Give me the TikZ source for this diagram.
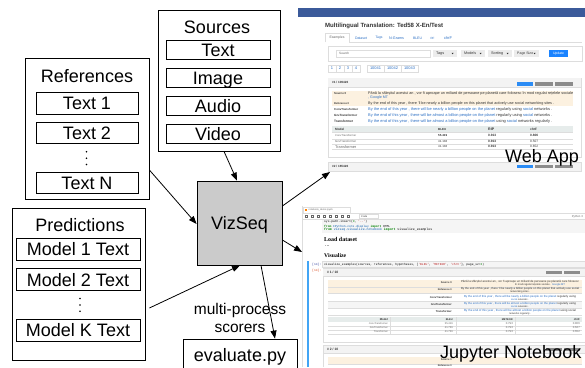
\documentclass[tikz,border=0pt]{standalone}
\usepackage{fontspec}
\setmainfont{Liberation Sans}
\newfontfamily\monofont{Liberation Mono}
\newfontfamily\seriffont{Liberation Serif}
\usetikzlibrary{arrows.meta}
\definecolor{vizgray}{HTML}{CBCBCB}
\definecolor{navblue}{HTML}{3B5A9A}
\definecolor{linkblue}{HTML}{2B6FC4}
\definecolor{beige}{HTML}{FCF1E0}
\definecolor{bordergray}{HTML}{DDDDDD}
\definecolor{hdrgray}{HTML}{F3F3F3}
\definecolor{tblhead}{HTML}{E6ECEB}
\definecolor{btngray}{HTML}{ECECEC}
\definecolor{updblue}{HTML}{1A83FF}
\definecolor{badgeblue}{HTML}{2B8CF5}
\definecolor{badgegray}{HTML}{8C8C8C}
\definecolor{darktxt}{HTML}{333333}
\definecolor{midtxt}{HTML}{666666}
\definecolor{codebg}{HTML}{F5F5F5}
\definecolor{cellblue}{HTML}{42A5F5}
\definecolor{codegreen}{HTML}{008000}
\definecolor{codeblue}{HTML}{0055AA}
\definecolor{promptblue}{HTML}{303F9F}
\definecolor{promptred}{HTML}{D84315}
\definecolor{codered}{HTML}{BA2121}
\newcommand{\fw}[2]{\resizebox{#1}{!}{#2}}
\begin{document}
\begin{tikzpicture}[x=1pt,y=-1pt,
  box/.style={draw=black,line width=0.8pt,inner sep=0pt,font=\fontsize{18}{20}\selectfont,text height=13pt,text depth=0pt},
  ttl/.style={inner sep=0pt,font=\fontsize{18}{20}\selectfont,anchor=base},
  arr/.style={line width=0.8pt,-{Triangle[length=8pt,width=6pt]}},
  sc/.style={inner sep=0pt,anchor=west},
  scc/.style={inner sep=0pt},
  sce/.style={inner sep=0pt,anchor=east},
  bd/.style={draw=bordergray,line width=0.4pt},
]
\useasboundingbox (0,0) rectangle (585,367);
\fill[white] (0,0) rectangle (585,367);

%================ Web App screenshot ================
\fill[navblue] (298,8) rectangle (585,17);
\node[sc,text=darktxt] (wtitle) at (325,26) {\fw{118pt}{\bfseries Multilingual Translation: Ted58 X-En/Test}};
% tabs
\draw[bd] (325,42) -- (325,33) -- (349,33) -- (349,42) -- (582,42);
\node[scc,text=midtxt] (tab0) at (337,38) {\fw{15pt}{Examples}};
\foreach \c/\w/\l in {361/12/Dataset,379/7/Tags,396.5/15/N-Grams,417.5/9/BLEU,432.5/4/RF,448/8/chrF}
  {\node[scc,text=linkblue] at (\c,38) {\fw{\w pt}{\l}};}
% search panel
\draw[bd,fill=white] (328,46) rectangle (582,61);
\draw[bd,fill=white] (336,50) rectangle (430,57);
\node[sc,text=midtxt] (srch) at (339,53.5) {\fw{10pt}{Search}};
\foreach \a/\b/\l/\w in {433/457/Tags/8,461/485/Models/12,488/512/Sorting/12,514/539/Page Size/16}
  {\fill[btngray] (\a,50) rectangle (\b,57);
   \node[sc,text=darktxt] at ({\a+3},53.5) {\fw{\w pt}{\l}};
   \fill[darktxt] ({\b-5.5},52.9) -- ++(2.2,0) -- ++(-1.1,1.3) -- cycle;}
\fill[updblue] (549,50) rectangle (568,57);
\node[scc,text=white] (upd) at (558.5,53.5) {\fw{11pt}{Update}};
% pagination
\foreach \i/\a in {1/328,2/336,3/344,4/352}
  {\draw[bd] (\a,65) rectangle ++(8,7);
   \node[scc,text=linkblue,font=\fontsize{4}{4}\selectfont] at ({\a+4},68.5) {\i};}
\foreach \i/\a in {10041/367,10042/384,10043/401}
  {\draw[bd] (\a,65) rectangle ++(17,7);
   \node[scc,text=linkblue] at ({\a+8.5},68.5) {\fw{11pt}{\i}};}
% card 1
\draw[bd,fill=white] (328,78) rectangle (581,157);
\fill[hdrgray] (328.4,78.4) rectangle (580.6,87);
\draw[bd] (328,87) -- (581,87);
\node[sc,text=darktxt] (c1h) at (332,82.5) {\fw{16pt}{\bfseries \#1 / 109426}};
\fill[badgeblue] (517,81.5) rectangle (533,85.5);
\fill[badgegray] (535,81.5) rectangle (553,85.5);
\fill[badgegray] (555,81.5) rectangle (573,85.5);
\fill[beige] (332,91) rectangle (573,100.5);
\fill[beige] (332,100.5) rectangle (573,106);
\node[sc,text=darktxt] at (334,94) {\fw{12pt}{\bfseries Source 0}};
\node[sc,text=darktxt] at (368,94) {\fw{205pt}{Până la sfârșitul acestui an , vor fi aproape un miliard de persoane pe planetă care folosesc în mod regulat rețelele sociale}};
\node[sc,text=linkblue] at (368,98) {\fw{20pt}{, Google MT}};
\node[sc,text=darktxt] at (334,103.5) {\fw{15pt}{\bfseries Reference 0}};
\node[sc,text=darktxt] at (368,103.5) {\fw{186pt}{By the end of this year , there 'll be nearly a billion people on this planet that actively use social networking sites .}};
\node[sc,text=darktxt] at (334,109.5) {\fw{24pt}{\bfseries ConvTransformer}};
\node[sc,text=linkblue] at (368,109.5) {\fw{184pt}{By the end of this year , there will be nearly a billion people on the planet \color{darktxt}regularly using \color{linkblue}social \color{darktxt}networks .}};
\node[sc,text=darktxt] at (334,115.3) {\fw{23pt}{\bfseries GruTransformer}};
\node[sc,text=linkblue] at (368,115.3) {\fw{184pt}{By the end of this year , there will be almost a billion people on the planet \color{darktxt}regularly using \color{linkblue}social \color{darktxt}networks .}};
\node[sc,text=darktxt] at (334,121) {\fw{19pt}{\bfseries Transformer}};
\node[sc,text=linkblue] at (368,121) {\fw{184pt}{By the end of this year , there will be almost a billion people on the planet \color{darktxt}using \color{linkblue}social \color{darktxt}networks regularly .}};
\fill[tblhead] (332,126) rectangle (573,132);
\foreach \y in {132,138.7,144,149.5} {\draw[bd] (332,\y) -- (573,\y);}
\node[sc,text=darktxt] at (335,129) {\fw{9pt}{\bfseries Model}};
\node[sc,text=darktxt] at (438,129) {\fw{8pt}{\bfseries BLEU}};
\node[sc,text=darktxt] at (488,129) {\fw{6pt}{\bfseries RIP}};
\node[sc,text=darktxt] at (530,129) {\fw{7pt}{\bfseries chrF}};
\foreach \y/\m/\b/\r/\c in {135.5/ConvTransformer/\bfseries 55.419/\bfseries 0.913/\bfseries 0.806,141.3/GruTransformer/41.138/\bfseries 0.913/0.507,146.8/Transformer/41.138/\bfseries 0.913/0.652}
  {\node[sc,text=midtxt] at (335,\y) {\fw{21pt}{\m}};
   \node[sc,text=darktxt] at (438,\y) {\fw{9pt}{\b}};
   \node[sc,text=darktxt] at (488,\y) {\fw{8pt}{\r}};
   \node[sc,text=darktxt] at (530,\y) {\fw{8pt}{\c}};}
% card 2
\fill[hdrgray] (328,162) rectangle (581,171);
\draw[bd] (328,172) -- (328,162) -- (581,162) -- (581,172);
\draw[bd] (328,171) -- (581,171);
\node[sc,text=darktxt] (c2h) at (332,166.3) {\fw{16pt}{\bfseries \#2 / 165426}};
\fill[badgeblue] (517,164.5) rectangle (533,168.2);
\fill[badgegray] (535,164.5) rectangle (553,168.2);
\fill[badgegray] (555,164.5) rectangle (573,168.2);

%================ Jupyter screenshot ================
\draw[bd] (302.5,206) -- (302.5,367);
\draw[bd,fill=white] (303,213) -- (303,207) -- (350,207) -- (350,213);
\fill[orange] (305,208.7) rectangle (307.3,211);
\node[sc,text=midtxt] (jtab) at (308.5,210) {\fw{24pt}{notebook\_demo.ipynb}};
\draw[bd] (303,213) -- (585,213);
\foreach \x in {305,311,317,323,329,335,341,347}
  {\draw[midtxt,line width=0.3pt] (\x,215) rectangle ++(2.6,2.4);}
\draw[bd] (359,214.3) rectangle (378,218.3);
\node[sc,text=darktxt] (jcode) at (361,216.3) {\fw{6pt}{Code}};
\node[sce,text=midtxt] (jpy) at (583,216.3) {\fw{11pt}{Python 3}};
\draw[bd] (303,219) -- (585,219);
\fill[codebg] (322,219.5) rectangle (585,232.5);
\node[sc] at (324,221.3) {\fw{43pt}{\monofont sys.path.insert(\color{codegreen}0\color{black}, \color{codered}'..'\color{black})}};
\node[sc] at (324,226.3) {\fw{66pt}{\monofont\color{codegreen}\bfseries from \mdseries\color{codeblue}IPython.core.display \color{codegreen}\bfseries import \mdseries\color{black}HTML}};
\node[sc] at (324,229.8) {\fw{108pt}{\monofont\color{codegreen}\bfseries from \mdseries\color{codeblue}vizseq.visualize.notebook \color{codegreen}\bfseries import \mdseries\color{black}visualize\_examples}};
\node[sc,text=black] (jload) at (324,239) {\fw{33pt}{\seriffont\bfseries Load dataset}};
\node[sc,text=black] (jdots) at (325,246.5) {\fw{4.5pt}{...}};
\node[sc,text=black] (jvis) at (324,256) {\fw{22pt}{\seriffont\bfseries Visualize}};
\fill[cellblue] (306.5,261) rectangle (308.5,367);
\fill[codebg] (322,261.5) rectangle (585,267.5);
\draw[bd] (322,267.5) -- (322,261.5) -- (585,261.5);
\draw[bd] (322,267.5) -- (585,267.5);
\node[sc,text=promptblue] (jin) at (312,264.5) {\fw{9pt}{\monofont [14]:}};
\node[sc] (jcall) at (324,264.5) {\fw{160pt}{\monofont visualize\_examples(sources, references, hypotheses, [\color{codered}'BLEU'\color{black}, \color{codered}'METEOR'\color{black}, \color{codered}'chrF'\color{black}], page\_sz=\color{codegreen}3\color{black})}};
\node[sc,text=promptred] (jout) at (312,270.8) {\fw{9pt}{\monofont [14]:}};
% output card 1
\draw[bd,fill=white] (323,268.5) rectangle (586,342);
\fill[hdrgray] (323.4,268.9) rectangle (586,276.5);
\draw[bd] (323,276.5) -- (586,276.5);
\node[sc,text=darktxt] (o1h) at (327,272.5) {\fw{11pt}{\bfseries \# 1 / 10}};
\fill[badgegray] (546,270.8) rectangle (562,274.3);
\fill[badgegray] (564,270.8) rectangle (580,274.3);
\fill[beige] (328,279.5) rectangle (582,287);
\fill[beige] (328,287) rectangle (582,293.5);
\fill[codebg] (328,301.5) rectangle (582,308.5);
\foreach \y in {287,293.5,301.5,308.5,315.5} {\draw[bd] (328,\y) -- (582,\y);}
\foreach \y/\l/\w in {282.5/Source 0/11,290/Reference 0/14,297.5/ConvTransformer/22,304.5/GruTransformer/21,311.5/Transformer/16}
  {\node[sce,text=darktxt] at (452,\y) {\fw{\w pt}{\bfseries \l}};}
\node[scc,text=darktxt] at (520,281.5) {\fw{118pt}{Până la sfârșitul acestui an , vor fi aproape un miliard de persoane pe planetă care folosesc}};
\node[scc,text=darktxt] at (540,284.8) {\fw{50pt}{în mod regulat rețelele sociale . \color{linkblue}Google MT}};
\node[scc,text=darktxt] at (520,289) {\fw{118pt}{By the end of this year , there 'll be nearly a billion people on this planet that actively use social}};
\node[scc,text=darktxt] at (520,292) {\fw{20pt}{networking sites .}};
\node[scc,text=linkblue] at (520,296.3) {\fw{112pt}{By the end of this year , there will be nearly a billion people on the planet \color{darktxt}regularly using}};
\node[scc,text=linkblue] at (520,299.6) {\fw{18pt}{social \color{darktxt}networks .}};
\node[scc,text=linkblue] at (520,303.3) {\fw{112pt}{By the end of this year , there will be almost a billion people on the planet \color{darktxt}regularly using}};
\node[scc,text=linkblue] at (520,306.6) {\fw{18pt}{social \color{darktxt}networks .}};
\node[scc,text=linkblue] at (520,310.3) {\fw{112pt}{By the end of this year , there will be almost a billion people on the planet \color{darktxt}using social}};
\node[scc,text=darktxt] at (520,313.6) {\fw{22pt}{networks regularly .}};
\fill[tblhead] (328,317.3) rectangle (582,321.5);
\foreach \y in {325.7,329.9,334.1} {\draw[bd] (328,\y) -- (582,\y);}
\foreach \x in {390,456,515} {\draw[bd] (\x,317.3) -- (\x,334.1);}
\node[sce,text=darktxt] at (388,319.4) {\fw{8pt}{\bfseries Model}};
\node[sce,text=darktxt] at (453,319.4) {\fw{7pt}{\bfseries BLEU}};
\node[sce,text=darktxt] at (513,319.4) {\fw{11pt}{\bfseries METEOR}};
\node[sce,text=darktxt] at (580,319.4) {\fw{6pt}{\bfseries chrF}};
\foreach \y/\m/\w/\b/\c in {323.6/ConvTransformer/19/55.419/0.806,327.8/GruTransformer/18/41.759/0.627,332/Transformer/14/41.759/0.652}
  {\node[sce,text=midtxt] at (388,\y) {\fw{\w pt}{\m}};
   \node[sce,text=midtxt] at (453,\y) {\fw{8pt}{\b}};
   \node[sce,text=midtxt] at (513,\y) {\fw{7pt}{0.793}};
   \node[sce,text=midtxt] at (580,\y) {\fw{7pt}{\c}};}
% output card 2
\fill[hdrgray] (323,345) rectangle (586,353.5);
\draw[bd] (323,367) -- (323,345) -- (586,345);
\draw[bd] (323,353.5) -- (586,353.5);
\node[sc,text=darktxt] (o2h) at (327,349.3) {\fw{11pt}{\bfseries \# 2 / 10}};
\fill[badgegray] (546,347.5) rectangle (562,351);
\fill[badgegray] (564,347.5) rectangle (580,351);
\fill[beige] (328,356.5) rectangle (582,364);
\draw[bd] (328,364) -- (582,364);
\node[sce,text=darktxt] at (452,360) {\fw{11pt}{\bfseries Source 0}};
\node[sce,text=darktxt] at (452,366) {\fw{14pt}{\bfseries Reference 0}};

%================ Labels of screenshots ================
\node[ttl,anchor=base west] (weblbl) at (505,162) {Web App};
\node[ttl,anchor=base west] (juplbl) at (440,358) {Jupyter Notebook};

%================ Main diagram ================
\node[box,minimum width=122pt,minimum height=141pt] (sources) at (219,80.5) {};
\node[ttl] (sourcest) at (217,33) {Sources};
\node[box,minimum width=104pt,minimum height=19pt] (stext) at (218,49.5) {Text};
\node[box,minimum width=104pt,minimum height=19pt] (simage) at (218,77.5) {Image};
\node[box,minimum width=104pt,minimum height=19pt] (saudio) at (218,105.5) {Audio};
\node[box,minimum width=104pt,minimum height=19pt] (svideo) at (218,133.5) {Video};

\node[box,minimum width=124pt,minimum height=141pt] (refs) at (87,128.5) {};
\node[ttl] (refst) at (87,82) {References};
\node[box,minimum width=102pt,minimum height=21.5pt] (ref1) at (87,103.3) {Text 1};
\node[box,minimum width=102pt,minimum height=21.5pt] (ref2) at (87,132.7) {Text 2};
\node[box,minimum width=102pt,minimum height=21.5pt] (refn) at (87,182.7) {Text N};
\foreach \y in {151.8,158.2,164.4} {\fill (86.5,\y) circle (0.9pt);}

\node[box,minimum width=133pt,minimum height=152pt] (preds) at (78.5,284) {};
\node[ttl] (predst) at (80,231.5) {Predictions};
\node[box,minimum width=124pt,minimum height=22pt] (pred1) at (78,249) {Model 1 Text};
\node[box,minimum width=124pt,minimum height=22pt] (pred2) at (78,279.7) {Model 2 Text};
\node[box,minimum width=124pt,minimum height=22pt] (predk) at (78,330.3) {Model K Text};
\foreach \y in {298.5,305,311.3} {\fill (80,\y) circle (0.9pt);}

\node[box,fill=vizgray,minimum width=85pt,minimum height=84pt] (viz) at (239.5,223) {VizSeq};
\node[box,minimum width=114pt,minimum height=32pt] (eval) at (240,355) {evaluate.py};
\node[ttl,font=\fontsize{15.5}{17}\selectfont] (mp) at (240,314) {multi-process};
\node[ttl,font=\fontsize{15.5}{17}\selectfont] (scor) at (240,332) {scorers};

\coordinate (webin) at (330,172);
\coordinate (jupin) at (302,252);
\draw[arr] ([xshift=5pt]sources.south) -- ([xshift=-2.5pt]viz.north);
\draw[arr] ([yshift=-41.5pt]refs.east) -- ([yshift=-1pt]viz.west);
\draw[arr] ([xshift=4pt,yshift=-24pt]preds.east) -- ([xshift=0.5pt]viz.south);
\draw[arr] ([xshift=21.5pt]viz.south) -- ([xshift=35pt]eval.north);
\draw[arr] ([yshift=17pt]viz.east) -- (webin);
\draw[arr] ([yshift=-17pt]viz.east) -- (jupin);
\end{tikzpicture}
\end{document}
